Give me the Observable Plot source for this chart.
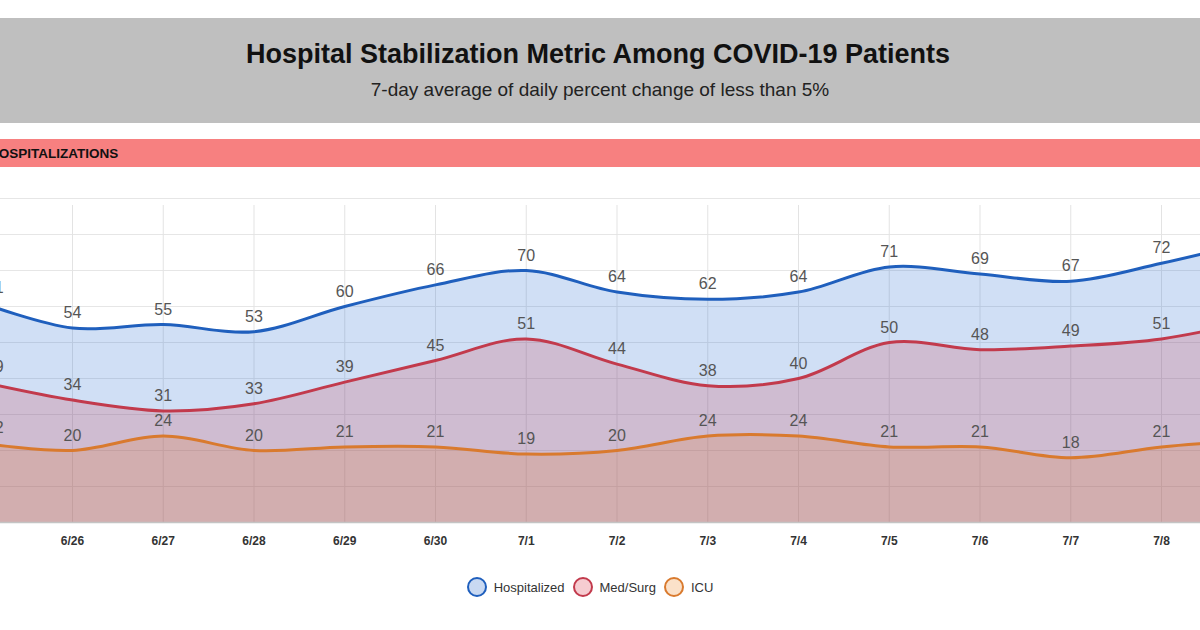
<!DOCTYPE html>
<html>
<head>
<meta charset="utf-8">
<script src="https://cdn.jsdelivr.net/npm/d3@7"></script>
<script src="https://cdn.jsdelivr.net/npm/@observablehq/plot@0.6"></script>
<style>
  html, body { margin: 0; padding: 0; background: #fff; width: 1200px; height: 630px; overflow: hidden; font-family: "Liberation Sans", Arial, sans-serif; }
  #header { position: absolute; left: 0; top: 18px; width: 1200px; height: 105px; background: #bfbfbf; text-align: center; }
  #title { position: absolute; left: 0; width: 1196px; top: 21px; font-size: 27px; font-weight: bold; color: #111; }
  #subtitle { position: absolute; left: 0; width: 1200px; top: 61px; font-size: 19px; color: #222; }
  #band { position: absolute; left: 0; top: 139px; width: 1200px; height: 28px; background: #f78080; overflow: hidden; }
  #band span { position: absolute; left: -11px; top: 7px; font-size: 13.5px; font-weight: bold; color: #111; white-space: nowrap; }
  #chart { position: absolute; left: 0; top: 180px; }
  #legend { position: absolute; left: -10px; top: 576px; width: 1200px; height: 22px; display: flex; justify-content: center; align-items: center; font-size: 13px; color: #333; }
  .item { display: flex; align-items: center; margin: 0 4px; }
  .dot { width: 16px; height: 16px; border-radius: 50%; border-width: 2.5px; border-style: solid; margin-right: 7px; box-sizing: content-box; }
</style>
</head>
<body>
<div id="header">
  <div id="title">Hospital Stabilization Metric Among COVID-19 Patients</div>
  <div id="subtitle">7-day average of daily percent change of less than 5%</div>
</div>
<div id="band"><span>HOSPITALIZATIONS</span></div>
<div id="chart"></div>
<div id="legend"></div>
<script>
// ---- data ----
const dates = ["6/25","6/26","6/27","6/28","6/29","6/30","7/1","7/2","7/3","7/4","7/5","7/6","7/7","7/8","7/9"];
const hospitalized = [61, 54, 55, 53, 60, 66, 70, 64, 62, 64, 71, 69, 67, 72, 78];
const medSurg      = [39, 34, 31, 33, 39, 45, 51, 44, 38, 40, 50, 48, 49, 51, 56];
const icu          = [22, 20, 24, 20, 21, 21, 19, 20, 24, 24, 21, 21, 18, 21, 23];
const seriesNames  = ["Hospitalized", "Med/Surg", "ICU"];
const yTicks       = [0, 10, 20, 30, 40, 50, 60, 70, 80, 90];

const lineColors = ["#1f5fbd", "#c23a4c", "#d97a2e"];
const fillColors = ["rgba(40,110,210,0.22)", "rgba(205,50,65,0.2)", "rgba(225,120,40,0.2)"];
const legendFill = ["#c9d9f2", "#f6ccd1", "#fbe1c9"];

const allSeries = [hospitalized, medSurg, icu];
const tables = allSeries.map((vals, s) => vals.map((v, i) => ({i, value: v, series: seriesNames[s], date: dates[i]})));

const marks = [];
// grid
marks.push(Plot.ruleY(yTicks, {stroke: "#e6e6e6", strokeWidth: 1}));
marks.push(Plot.ruleX(dates.map((d, i) => i), {x: d => d, y1: 0, y2: 90, stroke: "#e3e3e3", strokeWidth: 1, insetBottom: -7}));
// areas
tables.forEach((t, s) => {
  marks.push(Plot.areaY(t, {x: "i", y: "value", fill: fillColors[s], curve: "catmull-rom"}));
});
marks.push(Plot.ruleY([0], {stroke: "#c4c4c4", strokeWidth: 1.5}));
// lines
tables.forEach((t, s) => {
  marks.push(Plot.lineY(t, {x: "i", y: "value", stroke: lineColors[s], strokeWidth: 3, curve: "catmull-rom"}));
});
// value labels
tables.forEach((t, s) => {
  marks.push(Plot.text(t.slice(1), {x: "i", y: "value", text: d => String(d.value), dy: -15, fill: "#555", fontSize: 16, fontFamily: "Liberation Sans, Arial, sans-serif"}));
  marks.push(Plot.text(t.slice(0, 1), {x: "i", y: "value", text: d => String(d.value), dy: -15, dx: 13, fill: "#555", fontSize: 16, fontFamily: "Liberation Sans, Arial, sans-serif"}));
});
// x axis
marks.push(Plot.axisX(d3.range(1, 14), {tickFormat: i => dates[i], tickSize: 0, tickPadding: 14, fontSize: 12, fontWeight: "bold", fill: "#333", label: null}));

const chart = Plot.plot({
  width: 1200,
  height: 382,
  marginTop: 18,
  marginBottom: 40,
  marginLeft: 0,
  marginRight: 0,
  style: {fontFamily: "Liberation Sans, Arial, sans-serif", background: "transparent", overflow: "visible"},
  x: {type: "linear", domain: [1 - 72 / 90.75, 13 + 39 / 90.75], axis: null},
  y: {domain: [0, 90], axis: null},
  marks
});
document.getElementById("chart").appendChild(chart);

// legend
const legend = document.getElementById("legend");
seriesNames.forEach((name, s) => {
  const item = document.createElement("div");
  item.className = "item";
  const dot = document.createElement("div");
  dot.className = "dot";
  dot.style.borderColor = lineColors[s];
  dot.style.background = legendFill[s];
  const label = document.createElement("span");
  label.textContent = name;
  item.appendChild(dot);
  item.appendChild(label);
  legend.appendChild(item);
});
</script>
</body>
</html>
